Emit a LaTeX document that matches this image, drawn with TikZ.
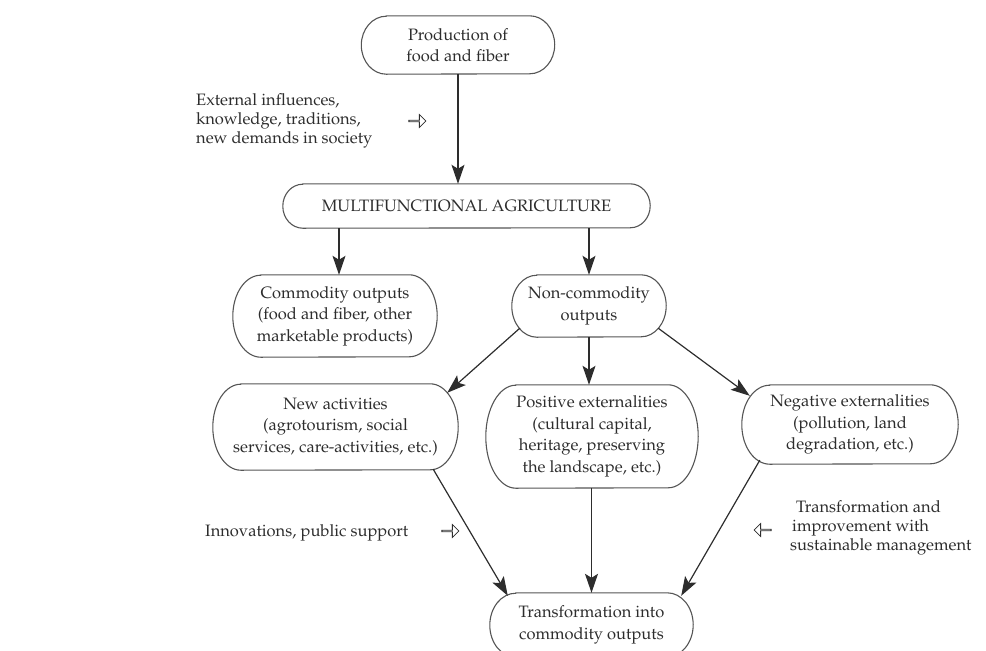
\documentclass[tikz,border=0pt]{standalone}
\usepackage[T1]{fontenc}
\renewcommand{\rmdefault}{ppl}
\usetikzlibrary{arrows.meta,shapes.arrows}
\definecolor{ink}{RGB}{45,45,45}
\definecolor{edgec}{RGB}{85,85,85}
\tikzset{
 box/.style={rectangle, draw=none, inner sep=0pt, align=center, text=ink, font=\fontsize{16.5}{21.5}\selectfont},
 ann/.style={inner sep=0pt, align=left, text=ink, font=\fontsize{16.5}{19}\selectfont, anchor=west},
 arr/.style={color=ink, line width=1.2pt, -{Stealth[length=19pt,width=13pt,inset=4pt,fill=ink]}},
 boxline/.style={draw=edgec, line width=1.1pt},
 hollow/.style={single arrow, draw=ink, fill=white, line width=0.8pt, minimum height=17pt, minimum width=13pt, single arrow head extend=3pt, inner sep=0pt}
}
% #1 node, #2 end x-radius, #3 half height
\newcommand{\capsule}[3]{%
 \draw[boxline] ([xshift=#2pt]#1.north west) -- ([xshift=-#2pt]#1.north east)
 arc[start angle=90,end angle=-90,x radius=#2,y radius=#3]
 -- ([xshift=#2pt]#1.south west)
 arc[start angle=270,end angle=90,x radius=#2,y radius=#3] -- cycle;}
\begin{document}
\begin{tikzpicture}[x=1pt,y=1pt]
\useasboundingbox (0,0) rectangle (986,-651);
% nodes
\node[box, minimum width=193pt, minimum height=58pt] (prod) at (458,-45) {Production of\\food and fiber};
\node[box, minimum width=367pt, minimum height=44pt] (mf) at (466.5,-206) {MULTIFUNCTIONAL AGRICULTURE};
\node[box, minimum width=204pt, minimum height=82pt] (com) at (335,-316) {Commodity outputs\\(food and fiber, other\\marketable products)};
\node[box, minimum width=154pt, minimum height=62pt] (nc) at (589,-306) {Non-commodity\\outputs};
\node[box, minimum width=245pt, minimum height=86pt] (na) at (335.5,-427) {New activities\\(agrotourism, social\\services, care-activities, etc.)};
\node[box, minimum width=212pt, minimum height=103pt] (pos) at (592,-436.5) {Positive externalities\\(cultural capital,\\heritage, preserving\\the landscape, etc.)};
\node[box, minimum width=216pt, minimum height=79pt] (neg) at (850,-424.5) {Negative externalities\\(pollution, land\\degradation, etc.)};
\node[box, minimum width=203pt, minimum height=64pt] (tr) at (591.5,-625) {Transformation into\\commodity outputs};
% outlines
\capsule{prod}{25}{29}
\capsule{mf}{20}{22}
\capsule{com}{28}{41}
\capsule{nc}{25}{31}
\capsule{na}{28}{43}
\capsule{pos}{30}{51.5}
\capsule{neg}{28}{39.5}
\capsule{tr}{26}{32}
% annotations
\node[ann] (ext) at (196,-121) {External influences,\\knowledge, traditions,\\new demands in society};
\node[hollow] (h1) at (417,-121) {};
\node[ann] (inn) at (205,-533) {Innovations, public support};
\node[hollow] (h2) at (450,-531) {};
\node[hollow, shape border rotate=180] (h3) at (763,-530) {};
\node[ann] (tra) at (790,-528) {\hspace*{6pt}Transformation and\\\hspace*{2pt}improvement with\\sustainable management};
% connectors
\draw[arr] (prod.south) -- (prod.south |- mf.north);
\draw[arr] ([xshift=4pt]com.north |- mf.south) -- ([xshift=4pt]com.north);
\draw[arr] (nc.north |- mf.south) -- (nc.north);
\draw[arr] ([xshift=8pt,yshift=9pt]nc.south west) -- ([xshift=-11pt,yshift=-9pt]na.north east);
\draw[arr] (nc.south) -- (nc.south |- pos.north);
\draw[arr] ([xshift=-8pt,yshift=9pt]nc.south east) -- ([xshift=8pt,yshift=-11pt]neg.north west);
\draw[arr] ([xshift=-25pt,yshift=1pt]na.south east) -- ([xshift=18pt,yshift=-3pt]tr.north west);
\draw[arr] (tr.north |- pos.south) -- (tr.north);
\draw[arr] ([xshift=18pt,yshift=4pt]neg.south west) -- ([xshift=-12pt,yshift=-3pt]tr.north east);
\end{tikzpicture}
\end{document}
